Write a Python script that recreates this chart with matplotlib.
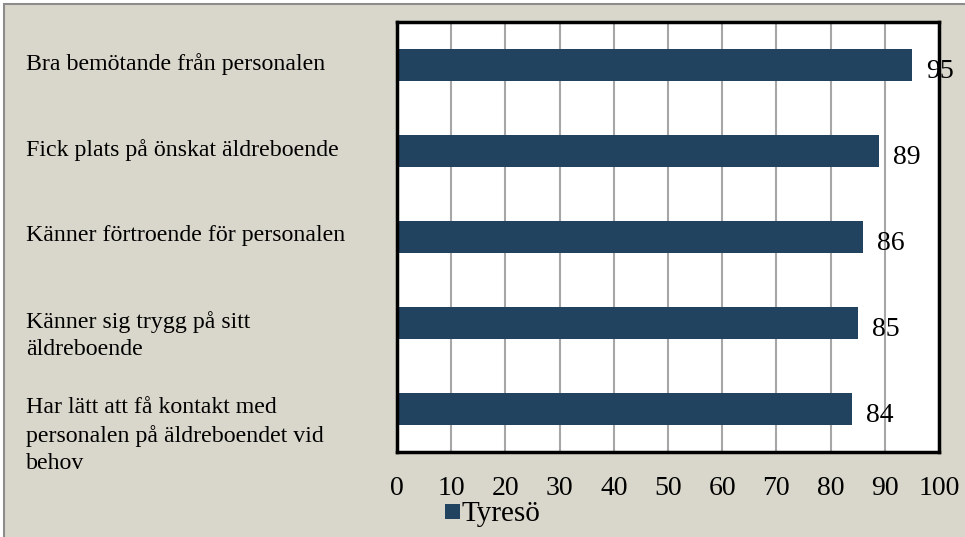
import matplotlib.pyplot as plt
from matplotlib.patches import Rectangle

categories = [
    "Bra bemötande från personalen",
    "Fick plats på önskat äldreboende",
    "Känner förtroende för personalen",
    "Känner sig trygg på sitt\näldreboende",
    "Har lätt att få kontakt med\npersonalen på äldreboendet vid\nbehov",
]
values = [95, 89, 86, 85, 84]
series_name = "Tyresö"
xticks = [0, 10, 20, 30, 40, 50, 60, 70, 80, 90, 100]

W, H = 965, 537
bg = "#D9D7CB"
bar_color = "#22435F"

plt.rcParams['font.family'] = ['Liberation Serif', 'DejaVu Serif']

fig = plt.figure(figsize=(W / 100, H / 100), dpi=100)
fig.patch.set_facecolor("white")

# outer chart area frame
fig.patches.append(Rectangle((4 / W, -0.05), 1.1, 1 - 4 / H + 0.05, transform=fig.transFigure,
                             facecolor=bg, edgecolor="#8C8C8C", linewidth=1.5, zorder=-10))

left, right, top, bottom = 397, 939, 22, 452
ax = fig.add_axes([left / W, 1 - bottom / H, (right - left) / W, (bottom - top) / H])
ax.set_facecolor("white")

y = list(range(len(categories)))
ax.barh(y, values, height=0.37, color=bar_color, zorder=3)
ax.set_ylim(len(categories) - 0.5, -0.5)
ax.set_xlim(0, 100)
ax.set_xticks(xticks)
ax.set_xticklabels([str(t) for t in xticks], fontsize=20)
ax.tick_params(axis='x', length=0, pad=17)
ax.set_yticks([])
ax.grid(axis='x', color="#A6A6A6", linewidth=1.5, zorder=1)
for s in ax.spines.values():
    s.set_linewidth(2.5)
    s.set_color("black")
    s.set_zorder(5)

for yi, v in zip(y, values):
    ax.text(v + 2.6, yi + 0.08, str(v), va='center', ha='left', fontsize=20, zorder=6, clip_on=False)

for yi, lab in zip(y, categories):
    ax.annotate(lab, xy=(0, yi), xycoords=('figure fraction', 'data'),
                xytext=(26, 12), textcoords='offset pixels',
                va='top', ha='left', fontsize=17.2, linespacing=1.4, annotation_clip=False)

# legend
fig.patches.append(Rectangle((445 / W, 1 - 519 / H), 15 / W, 15 / H, transform=fig.transFigure,
                             facecolor=bar_color, edgecolor='none'))
fig.text(462 / W, 1 - 514 / H, series_name, fontsize=21, va='center', ha='left')

fig.savefig("out.png", dpi=100, facecolor=fig.get_facecolor())
